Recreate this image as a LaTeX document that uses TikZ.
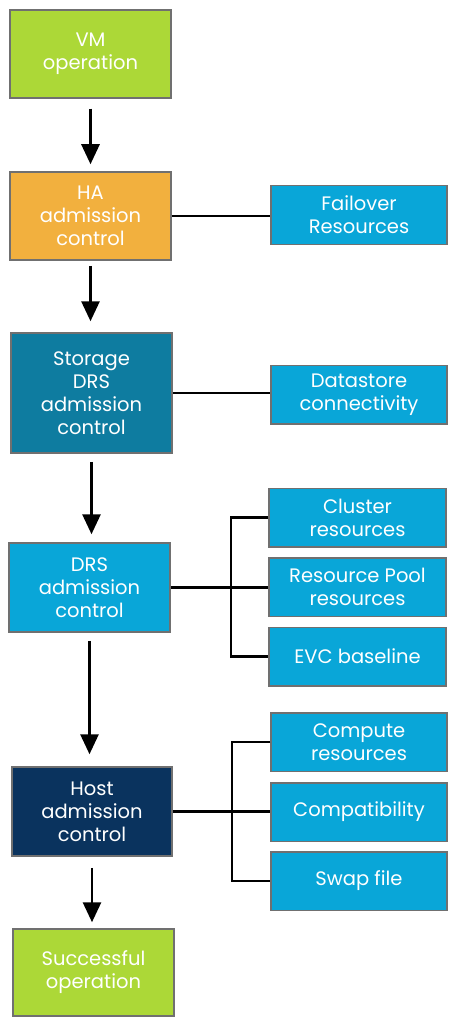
\documentclass[tikz,border=0pt]{standalone}
\usepackage{fontspec}
\setmainfont{Poppins}
\usetikzlibrary{arrows.meta}
\definecolor{cgreen}{RGB}{172,216,55}
\definecolor{corange}{RGB}{242,176,62}
\definecolor{cteal}{RGB}{14,124,160}
\definecolor{cblue}{RGB}{9,166,216}
\definecolor{cnavy}{RGB}{10,51,94}
\definecolor{cborder}{RGB}{112,112,112}
\tikzset{
  box/.style={draw=cborder, line width=1.5pt, text=white, align=center,
    font=\fontsize{19.5}{23}\selectfont, inner sep=0pt},
  mainbox/.style={box, minimum width=161pt},
  sidebox/.style={box, fill=cblue, minimum width=176pt, minimum height=58.5pt},
  arr/.style={line width=2.8pt, -{Triangle[length=20pt,width=18pt]}},
  conn/.style={line width=2.8pt}
}
\begin{document}
\begin{tikzpicture}[x=1pt,y=-1pt]
\useasboundingbox (0,0) rectangle (454,1024);
\node[mainbox, fill=cgreen, minimum height=88pt] (vm) at (90.5,54) {VM\\operation};
\node[mainbox, fill=corange, minimum height=88pt] (ha) at (90.5,216) {HA\\admission\\control};
\node[sidebox] (failover) at (359,215) {Failover\\Resources};
\node[mainbox, fill=cteal, minimum height=120pt] (sdrs) at (91.5,393) {Storage\\DRS\\admission\\control};
\node[sidebox] (datastore) at (359,394.5) {Datastore\\connectivity};
\node[mainbox, fill=cblue, minimum height=89pt] (drs) at (89.5,587.5) {DRS\\admission\\control};
\node[sidebox, minimum width=177pt] (cluster) at (357.5,517.5) {Cluster\\resources};
\node[sidebox, minimum width=177pt] (pool) at (357.5,587) {Resource Pool\\resources};
\node[sidebox, minimum width=177pt] (evc) at (357.5,656.5) {EVC baseline};
\node[mainbox, fill=cnavy, minimum width=160pt, minimum height=89pt] (host) at (92,811.5) {Host\\admission\\control};
\node[sidebox] (compute) at (359,742) {Compute\\resources};
\node[sidebox] (compat) at (359,812) {Compatibility};
\node[sidebox] (swap) at (359,881) {Swap file};
\node[mainbox, fill=cgreen, minimum height=87pt] (success) at (93.5,972.5) {Successful\\operation};
% flow arrows
\draw[arr] ([yshift=-10pt]vm.south) -- ([yshift=7pt]vm.south |- ha.north);
\draw[arr] ([yshift=-5pt]ha.south) -- ([yshift=11pt]ha.south |- sdrs.north);
\draw[arr] ([yshift=-8pt]sdrs.south) -- ([yshift=8pt]sdrs.south |- drs.north);
\draw[arr] ([yshift=-8pt]drs.south) -- ([yshift=12pt]drs.south |- host.north);
\draw[arr] ([yshift=-11pt]host.south) -- ([yshift=6pt]host.south |- success.north);
% side connectors
\draw[conn] (ha.east) -- (ha.east -| failover.west);
\draw[conn] (sdrs.east) -- (sdrs.east -| datastore.west);
\coordinate (b1) at (231,587);
\draw[conn] (drs.east) -- (drs.east -| pool.west);
\draw[conn] (cluster.west) -| (b1) |- (evc.west);
\coordinate (b2) at (232,812);
\draw[conn] (host.east) -- (host.east -| compat.west);
\draw[conn] (compute.west) -| (b2) |- (swap.west);
\end{tikzpicture}
\end{document}
